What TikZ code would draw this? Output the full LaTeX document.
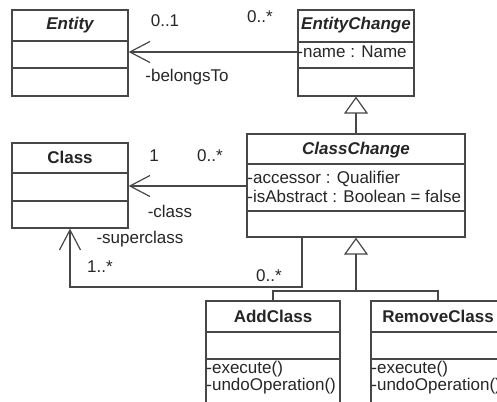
\documentclass[tikz,border=0pt]{standalone}
\usepackage{fontspec}
\setmainfont{Liberation Sans}
\usetikzlibrary{arrows.meta}
\definecolor{umlline}{gray}{0.28}
\definecolor{umltext}{gray}{0.15}
\begin{document}
\begin{tikzpicture}[x=0.5pt,y=-0.5pt,
  font=\fontsize{8.5pt}{10pt}\selectfont,
  cls/.style={draw=umlline, line width=0.65pt, fill=white, rectangle, inner sep=0pt},
  sep/.style={draw=umlline, line width=0.65pt},
  clstitle/.style={anchor=base, inner sep=0pt, text=umltext, font=\fontsize{8.5pt}{10pt}\selectfont\bfseries},
  abstitle/.style={clstitle, font=\fontsize{8.5pt}{10pt}\selectfont\bfseries\itshape},
  member/.style={anchor=base west, inner sep=0pt, text=umltext},
  lbl/.style={anchor=base, inner sep=0pt, text=umltext},
  conn/.style={draw=umlline, line width=0.6pt},
  assoc/.style={conn, -{Straight Barb[length=10pt,width=10.5pt]}},
  gen/.style={conn, -{Triangle[open,length=8.5pt,width=12pt]}},
]
\fill[white] (0,0) rectangle (497,401);
\useasboundingbox (0,0) rectangle (497,401);
\clip (0,0) rectangle (497,401);

% class boxes
\node[cls, minimum width=58pt, minimum height=43pt] (ent) at (70,53) {};
\node[cls, minimum width=58pt, minimum height=43pt] (ec) at (356,53) {};
\node[cls, minimum width=58pt, minimum height=42.5pt] (cls) at (70,185.5) {};
\node[cls, minimum width=109pt, minimum height=51.5pt] (cc) at (356,185.5) {};
\node[cls, minimum width=67pt, minimum height=60pt] (ac) at (273,361) {};
\node[cls, minimum width=67pt, minimum height=60pt] (rc) at (438,361) {};

% compartment separators
\draw[sep] (ent.west |- 0,41) -- (ent.east |- 0,41);
\draw[sep] (ent.west |- 0,68) -- (ent.east |- 0,68);
\draw[sep] (ec.west |- 0,42) -- (ec.east |- 0,42);
\draw[sep] (ec.west |- 0,68) -- (ec.east |- 0,68);
\draw[sep] (cls.west |- 0,173) -- (cls.east |- 0,173);
\draw[sep] (cls.west |- 0,201) -- (cls.east |- 0,201);
\draw[sep] (cc.west |- 0,164) -- (cc.east |- 0,164);
\draw[sep] (cc.west |- 0,211) -- (cc.east |- 0,211);
\draw[sep] (ac.west |- 0,332) -- (ac.east |- 0,332);
\draw[sep] (ac.west |- 0,359) -- (ac.east |- 0,359);
\draw[sep] (rc.west |- 0,332) -- (rc.east |- 0,332);
\draw[sep] (rc.west |- 0,359) -- (rc.east |- 0,359);

% titles
\node[abstitle] (entT) at (70,30) {Entity};
\node[abstitle] (ecT) at (356,30) {EntityChange};
\node[clstitle] (clsT) at (70,163) {Class};
\node[abstitle] (ccT) at (356,154) {ClassChange};
\node[clstitle] (acT) at (273,322) {AddClass};
\node[clstitle] (rcT) at (438,322) {RemoveClass};

% attributes and operations
\node[member] (ecA1) at (297,58) {-name : Name};
\node[member] (ccA1) at (247,183) {-accessor : Qualifier};
\node[member] (ccA2) at (247,202) {-isAbstract : Boolean = false};
\node[member] (acO1) at (206,373) {-execute()};
\node[member] (acO2) at (206,390) {-undoOperation()};
\node[member] (rcO1) at (371,373) {-execute()};
\node[member] (rcO2) at (371,390) {-undoOperation()};

% associations
\draw[assoc] (ec.west |- 0,52) -- (ent.east |- 0,52);
\draw[assoc] (cc.west |- 0,186) -- (cls.east |- 0,186);
\coordinate (supFrom) at (302,237);
\coordinate (supBend) at (302,287);
\draw[assoc] (supFrom) -- (supBend) -| (cls.south);

% generalizations
\draw[gen] (cc.north) -- (ec.south);
\coordinate (genJoin) at (356,291);
\draw[conn] (ac.north) |- (genJoin) -| (rc.north);
\draw[gen] (genJoin) -- (cc.south);

% association end labels
\node[lbl] (m1) at (165,27) {0..1};
\node[lbl] (m2) at (260,23) {0..*};
\node[lbl] (r1) at (187,82) {-belongsTo};
\node[lbl] (m3) at (154,161) {1};
\node[lbl] (m4) at (210,161) {0..*};
\node[lbl] (r2) at (170,217) {-class};
\node[lbl] (r3) at (140,243) {-superclass};
\node[lbl] (m5) at (100,272) {1..*};
\node[lbl] (m6) at (269,281) {0..*};
\end{tikzpicture}
\end{document}
